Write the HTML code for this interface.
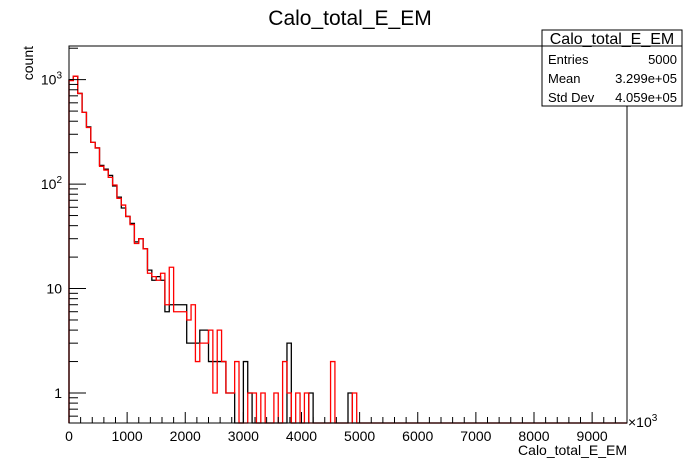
<!DOCTYPE html>
<html><head><meta charset="utf-8"><style>
body{margin:0;background:#fff;font-family:"Liberation Sans",sans-serif}
svg{display:block}
text{font-family:"Liberation Sans",sans-serif}
</style></head><body>
<svg id="chart" width="696" height="472" viewBox="0 0 696 472" xmlns="http://www.w3.org/2000/svg">
<rect width="696" height="472" fill="#fff"/>
<text x="350" y="25" font-size="21" text-anchor="middle">Calo_total_E_EM</text>
<g id="plot"></g>
<rect x="69" y="46" width="558" height="377" fill="none" stroke="#000" stroke-width="1"/>
<text transform="translate(33,46) rotate(-90)" font-size="14" text-anchor="end">count</text>
<text x="627" y="455" font-size="14" text-anchor="end">Calo_total_E_EM</text>
<text x="628" y="427" font-size="14">×10<tspan font-size="10" dy="-6">3</tspan></text>
<g>
<rect x="542" y="30" width="140" height="76" fill="#fff" stroke="#000"/>
<line x1="542" y1="46" x2="682" y2="46" stroke="#000"/>
<text x="612" y="44" font-size="16" text-anchor="middle">Calo_total_E_EM</text>
<text x="548" y="64" font-size="13">Entries</text><text x="677" y="64" font-size="13" text-anchor="end">5000</text>
<text x="548" y="83" font-size="13">Mean</text><text x="677" y="83" font-size="13" text-anchor="end">3.299e+05</text>
<text x="548" y="102" font-size="13">Std Dev</text><text x="677" y="102" font-size="13" text-anchor="end">4.059e+05</text>
</g>
</svg>
<script>
const binWidth = 75;
const xTicks = [0,1000,2000,3000,4000,5000,6000,7000,8000,9000];
const xTickLabels = ["0","1000","2000","3000","4000","5000","6000","7000","8000","9000"];
const yTicks = [1,10,100,1000];
const yTickLabels = ["1","10","10²","10³"];
const blackCounts = [1000,1080,738,486,353,251,222,151,139,121,96,75,59,49,42,28,30,24,15,12,13,12,6,7,7,7,7,3,3,3,4,4,2,2,2,2,1,1,0,0,2,1,0,0,0,0,0,0,0,0,3,0,0,0,0,1,0,0,0,0,0,0,0,0,1,0];
const redCounts = [980,1080,738,486,348,251,222,148,136,116,98,73,63,49,41,27,30,24,14,13,12,14,7,16,6,6,6,5,7,2,3,3,4,1,4,2,1,1,2,0,0,1,1,0,1,0,0,1,0,2,1,0,1,0,1,0,0,0,0,0,2,0,0,0,0,1];
const nBins = 128;
const X0=69,X1=627,XMAX=9600,YB=423,YT=46;
const sx=v=>X0+(v/XMAX)*(X1-X0);
const LMIN=Math.log10(0.516),LMAX=Math.log10(2100);
const sy=v=>v<=0?YB:YB-(Math.log10(v)-LMIN)/(LMAX-LMIN)*(YB-YT);
const NS="http://www.w3.org/2000/svg";
const g=document.getElementById('plot');
function mk(t,a){const e=document.createElementNS(NS,t);for(const k in a)e.setAttribute(k,a[k]);g.appendChild(e);return e;}
function series(counts,color,name){
  let d="M"+sx(0)+","+YB;
  for(let i=0;i<nBins;i++){const v=i<counts.length?counts[i]:0;const y=Math.max(YT,sy(v));
    d+=" L"+sx(i*binWidth)+","+y+" L"+sx((i+1)*binWidth)+","+y;}
  const p=mk('path',{d:d,fill:'none',stroke:color,'stroke-width':1.3});
  
  
}
series(blackCounts,'#000','histogram-black');
series(redCounts,'#f00','histogram-red');
for(let v=0;v<=XMAX;v+=200){const major=v%1000===0;
  const t=mk('line',{x1:sx(v),x2:sx(v),y1:YB,y2:YB-(major?11:6),stroke:'#000'});
  
  }
xTicks.forEach((v,i)=>{const t=mk('text',{x:sx(v),y:441,'font-size':14,'text-anchor':'middle'});t.textContent=xTickLabels[i];
  
  });
for(let dec=0.1;dec<=1000;dec*=10){for(let m=1;m<10;m++){const v=dec*m;const y=sy(v);if(y<YT||y>YB)continue;
  const major=m===1;const t=mk('line',{x1:X0,x2:X0+(major?17:9),y1:y,y2:y,stroke:'#000'});
  
  }}
yTicks.forEach((v,i)=>{const t=mk('text',{x:62,y:sy(v)+5,'font-size':14,'text-anchor':'end'});
  const lab=yTickLabels[i];
  if(lab.indexOf('²')>=0||lab.indexOf('³')>=0){t.textContent='10';const s=document.createElementNS(NS,'tspan');s.setAttribute('font-size','10');s.setAttribute('dy','-6');s.textContent=lab.indexOf('²')>=0?'2':'3';t.appendChild(s);}
  else t.textContent=lab;
  
  });
</script>
</body></html>
